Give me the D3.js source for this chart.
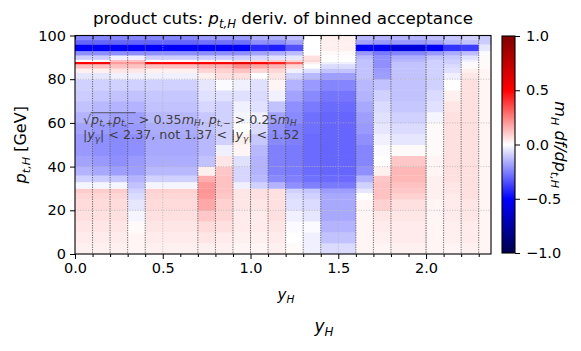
<!DOCTYPE html>
<html>
<head>
<meta charset="utf-8">
<script src="https://cdn.jsdelivr.net/npm/d3@7"></script>
<style>
  body { margin: 0; background: #fff; }
  text { font-family: "DejaVu Sans", sans-serif; }
</style>
</head>
<body>
<div id="chart"></div>
<script>
// bin edges in y_H and p_t,H
const yEdges = [0, 0.1, 0.2, 0.3, 0.4, 0.7, 0.8, 0.9, 1.0, 1.1, 1.2, 1.3, 1.4, 1.6, 1.7, 1.8, 2.0, 2.1, 2.2, 2.3, 2.37];
const ptEdges = [0, 5, 10, 15, 20, 25, 28, 30, 33, 36, 40, 45, 50, 55, 60, 65, 70, 75, 80, 83, 85, 87, 88, 89, 91, 93, 96, 98, 100];

// one row per y_H bin, values from low pt to high pt
const cells = [
  [0.03,0.04,0.05,0.06,0.07,0.08,0.1,-0.02,-0.09,-0.15,-0.18,-0.2,-0.2,-0.18,-0.15,-0.12,-0.1,-0.09,-0.05,0.03,0.12,0.5,0.01,-0.1,-0.22,-0.52,-0.3,-0.24],
  [0.03,0.04,0.05,0.06,0.07,0.08,0.1,-0.02,-0.1,-0.17,-0.2,-0.22,-0.22,-0.2,-0.17,-0.14,-0.11,-0.09,-0.05,0.03,0.12,0.5,0.01,-0.1,-0.22,-0.52,-0.3,-0.24],
  [0.03,0.04,0.05,0.06,0.07,0.08,0.1,-0.02,-0.11,-0.19,-0.22,-0.23,-0.23,-0.22,-0.19,-0.15,-0.12,-0.09,-0.03,0.05,0.12,0.2,0.12,-0.03,-0.22,-0.52,-0.3,-0.24],
  [0.02,0.02,0.01,-0.02,-0.05,-0.07,-0.09,-0.12,-0.15,-0.19,-0.2,-0.22,-0.22,-0.2,-0.19,-0.15,-0.12,-0.09,-0.03,0.05,0.12,0.2,0.12,-0.03,-0.22,-0.52,-0.3,-0.24],
  [0.03,0.04,0.05,0.06,0.07,0.08,0.09,-0.02,-0.09,-0.14,-0.16,-0.17,-0.17,-0.16,-0.14,-0.12,-0.11,-0.09,-0.03,0.03,0.12,0.5,0.01,-0.1,-0.22,-0.52,-0.3,-0.24],
  [0.03,0.05,0.07,0.11,0.17,0.2,0.21,0.2,0.16,0.03,-0.12,-0.14,-0.14,-0.12,-0.11,-0.08,-0.06,-0.05,0.03,0.08,0.15,0.52,0.03,-0.1,-0.22,-0.52,-0.28,-0.2],
  [0.03,0.04,0.06,0.08,0.09,0.11,0.12,0.12,0.12,0.11,0.05,-0.03,-0.09,-0.09,-0.09,-0.09,-0.06,-0.01,0.06,0.09,0.15,0.52,0.03,-0.1,-0.22,-0.52,-0.28,-0.2],
  [0.02,0.03,0.04,0.04,0.05,0.05,0.05,-0.03,-0.08,-0.08,-0.06,0.02,0.03,0.0,-0.02,-0.03,-0.06,-0.03,0.06,0.12,0.22,0.58,0.06,-0.1,-0.22,-0.52,-0.28,-0.2],
  [0.02,0.03,0.04,0.04,0.05,0.06,0.06,-0.09,-0.14,-0.15,-0.15,-0.14,-0.11,-0.07,-0.03,-0.06,-0.07,-0.06,0.0,0.08,0.17,0.5,0.08,-0.08,-0.18,-0.42,-0.22,-0.16],
  [0.03,0.04,0.05,0.06,0.06,0.06,0.06,-0.15,-0.23,-0.25,-0.25,-0.25,-0.23,-0.22,-0.18,-0.12,-0.03,0.02,0.05,0.08,0.15,0.45,0.1,-0.06,-0.16,-0.44,-0.22,-0.16],
  [0.01,0.0,-0.01,-0.03,-0.06,-0.07,-0.09,-0.22,-0.25,-0.26,-0.26,-0.26,-0.25,-0.25,-0.23,-0.22,-0.18,-0.15,-0.09,-0.03,0.08,0.3,0.08,-0.05,-0.13,-0.34,-0.18,-0.13],
  [-0.03,-0.03,-0.01,-0.05,-0.07,-0.09,-0.11,-0.25,-0.28,-0.29,-0.29,-0.29,-0.29,-0.28,-0.28,-0.26,-0.23,-0.2,-0.14,-0.06,0.0,0.03,0.08,0.06,0.0,0.0,0.0,0.0],
  [-0.07,-0.12,-0.15,-0.17,-0.17,-0.17,-0.19,-0.26,-0.29,-0.3,-0.3,-0.3,-0.3,-0.3,-0.3,-0.29,-0.27,-0.24,-0.19,-0.12,-0.07,-0.03,0.0,0.0,0.01,0.03,0.03,0.03],
  [0.02,0.02,0.02,0.02,0.02,0.0,-0.05,-0.09,-0.15,-0.22,-0.24,-0.24,-0.22,-0.2,-0.19,-0.17,-0.15,-0.14,-0.12,-0.12,-0.12,-0.12,-0.12,-0.14,-0.2,-0.52,-0.18,-0.14],
  [0.02,0.03,0.04,0.05,0.09,0.12,0.12,0.12,0.11,0.03,0.0,-0.01,-0.03,-0.05,-0.06,-0.07,-0.09,-0.12,-0.19,-0.2,-0.22,-0.22,-0.22,-0.22,-0.26,-0.55,-0.2,-0.15],
  [0.03,0.04,0.04,0.05,0.06,0.09,0.11,0.12,0.14,0.14,0.11,0.01,-0.05,-0.07,-0.09,-0.11,-0.12,-0.12,-0.12,-0.12,-0.12,-0.12,-0.14,-0.16,-0.24,-0.6,-0.2,-0.15],
  [0.02,0.02,0.02,0.02,0.02,0.03,0.03,0.03,0.03,0.02,0.02,0.01,0.01,0.01,-0.02,-0.06,-0.07,-0.09,-0.09,-0.09,-0.09,-0.09,-0.09,-0.12,-0.2,-0.52,-0.18,-0.13],
  [0.02,0.03,0.03,0.04,0.04,0.04,0.05,0.05,0.06,0.06,0.06,0.06,0.06,0.06,0.06,0.05,0.03,0.0,-0.03,-0.06,-0.07,-0.09,-0.09,-0.11,-0.16,-0.4,-0.14,-0.11],
  [0.03,0.04,0.04,0.05,0.05,0.06,0.06,0.06,0.06,0.06,0.06,0.06,0.06,0.06,0.06,0.06,0.06,0.06,0.05,0.03,0.01,-0.01,-0.03,-0.06,-0.13,-0.38,-0.12,-0.09],
  [0.02,0.02,0.02,0.02,0.02,0.02,0.02,0.02,0.02,0.02,0.02,0.02,0.02,0.02,0.02,0.02,0.02,0.02,0.02,0.02,0.01,0.01,0.01,0.01,-0.01,-0.05,-0.1,-0.1]
];

const xMajor = [0, 0.5, 1.0, 1.5, 2.0];
const xMinor = [0.1, 0.2, 0.3, 0.4, 0.6, 0.7, 0.8, 0.9, 1.1, 1.2, 1.3, 1.4, 1.6, 1.7, 1.8, 1.9, 2.1, 2.2, 2.3];
const yTicks = [0, 20, 40, 60, 80, 100];
const cbTicks = [-1, -0.5, 0, 0.5, 1];
const seismicStops = ["#00004c", "#0000ff", "#ffffff", "#ff0000", "#800000"];

const W = 581, H = 351;
const plot = { left: 75, right: 491, top: 35.5, bottom: 254 };
const cb = { left: 502, right: 515 };

const svg = d3.select("#chart").append("svg").attr("width", W).attr("height", H);

const x = d3.scaleLinear().domain([0, 2.37]).range([plot.left, plot.right]);
const y = d3.scaleLinear().domain([0, 100]).range([plot.bottom, plot.top]);
const color = d3.scaleLinear().domain(cbTicks).range(seismicStops).clamp(true);

// mathtext-ish helper: parts = [text, flags] where flags: i italic, s subscript
function mathText(sel, parts, size) {
  let shift = 0;
  const nodes = [];
  parts.forEach(([t, f]) => {
    const sub = f.includes("s");
    const target = sub ? size * 0.22 : 0;
    const ts = sel.append("tspan").text(t)
      .attr("dy", target - shift)
      .style("font-size", (sub ? size * 0.7 : size) + "px")
      .style("font-style", f.includes("i") ? "italic" : "normal");
    shift = target;
    nodes.push(ts.node());
  });
  return nodes;
}

// heatmap cells
const cellData = [];
cells.forEach((col, i) => col.forEach((v, j) => cellData.push({ i, j, v })));
svg.append("g")
  .selectAll("rect")
  .data(cellData)
  .enter()
  .append("rect")
  .attr("x", d => x(yEdges[d.i]))
  .attr("width", d => x(yEdges[d.i + 1]) - x(yEdges[d.i]) + 0.3)
  .attr("y", d => y(ptEdges[d.j + 1]))
  .attr("height", d => y(ptEdges[d.j]) - y(ptEdges[d.j + 1]) + 0.3)
  .attr("fill", d => color(d.v));

// grid
const grid = svg.append("g").attr("stroke", "#b0b0b0").attr("stroke-width", 0.8).attr("stroke-dasharray", "1,1.6");
grid.selectAll(".gx").data(xMajor.slice(1)).enter().append("line")
  .attr("x1", d => x(d)).attr("x2", d => x(d)).attr("y1", plot.top).attr("y2", plot.bottom);
grid.selectAll(".gy").data(yTicks.slice(1, -1)).enter().append("line")
  .attr("y1", d => y(d)).attr("y2", d => y(d)).attr("x1", plot.left).attr("x2", plot.right);

// bin edges
svg.append("g").attr("stroke", "#555").attr("stroke-width", 0.9).attr("stroke-dasharray", "1.2,1.2")
  .selectAll("line").data(yEdges.slice(1, -1)).enter().append("line")
  .attr("x1", d => x(d)).attr("x2", d => x(d)).attr("y1", plot.top).attr("y2", plot.bottom);

// frame
svg.append("rect").attr("x", plot.left).attr("y", plot.top)
  .attr("width", plot.right - plot.left).attr("height", plot.bottom - plot.top)
  .attr("fill", "none").attr("stroke", "#000").attr("stroke-width", 1.1);

// axes
const fmt = d3.format(".1f");
const styleAxis = g => {
  g.select(".domain").remove();
  g.selectAll("text").style("font-size", "14.5px").attr("fill", "#000");
  g.selectAll("line").attr("stroke", "#000").attr("stroke-width", 1);
};
svg.append("g").attr("transform", `translate(0,${plot.bottom})`)
  .call(d3.axisBottom(x).tickValues(xMajor).tickFormat(fmt).tickSize(5).tickPadding(4)).call(styleAxis);
svg.append("g").attr("transform", `translate(0,${plot.bottom})`)
  .call(d3.axisBottom(x).tickValues(xMinor).tickFormat("").tickSize(3)).call(styleAxis);
svg.append("g").attr("transform", `translate(0,${plot.top})`)
  .call(d3.axisTop(x).tickValues(xMinor.concat(xMajor)).tickFormat("").tickSize(-4)).call(styleAxis);
svg.append("g").attr("transform", `translate(${plot.left},0)`)
  .call(d3.axisLeft(y).tickValues(yTicks).tickFormat(d3.format("d")).tickSize(5).tickPadding(4)).call(styleAxis);

// annotation
const annSize = 12.7;
const ann1Y = 123.5, ann2Y = 139;
const ann1 = svg.append("text").attr("x", 83).attr("y", ann1Y).attr("fill", "#404040");
const n1 = mathText(ann1, [["√", ""], ["p", "i"], ["t,+", "is"], ["p", "i"], ["t,−", "is"], [" > 0.35", ""], ["m", "i"], ["H", "is"],
  [", ", ""], ["p", "i"], ["t,−", "is"], [" > 0.25", ""], ["m", "i"], ["H", "is"]], annSize);
const ann2 = svg.append("text").attr("x", 83).attr("y", ann2Y).attr("fill", "#404040");
mathText(ann2, [["|", ""], ["y", "i"], ["γ", "is"], ["| < 2.37, not 1.37 < |", ""], ["y", "i"], ["γ", "is"], ["| < 1.52", ""]], annSize);
const ovStart = n1[0].getEndPositionOfChar(0).x;
const ovEnd = n1[4].getEndPositionOfChar(n1[4].textContent.length - 1).x;
svg.append("line").attr("x1", ovStart - 0.5).attr("x2", ovEnd + 1)
  .attr("y1", ann1Y - annSize * 0.85).attr("y2", ann1Y - annSize * 0.85)
  .attr("stroke", "#404040").attr("stroke-width", 0.8);

// title and labels
const title = svg.append("text").attr("x", (plot.left + plot.right) / 2).attr("y", 24).attr("text-anchor", "middle");
mathText(title, [["product cuts: ", ""], ["p", "i"], ["t,H", "is"], [" deriv. of binned acceptance", ""]], 16.7);

const xl = svg.append("text").attr("x", 286).attr("y", 300).attr("text-anchor", "middle");
mathText(xl, [["y", "i"], ["H", "is"]], 15);
const xl2 = svg.append("text").attr("x", 324).attr("y", 332).attr("text-anchor", "middle");
mathText(xl2, [["y", "i"], ["H", "is"]], 17);

const yl = svg.append("text").attr("transform", `translate(26,${(plot.top + plot.bottom) / 2}) rotate(-90)`).attr("text-anchor", "middle");
mathText(yl, [["p", "i"], ["t,H", "is"], [" [GeV]", ""]], 16);

// colorbar
const cy = d3.scaleLinear().domain([-1, 1]).range([plot.bottom - 1, plot.top + 0.5]);
const grad = svg.append("defs").append("linearGradient").attr("id", "seismic")
  .attr("x1", "0%").attr("y1", "100%").attr("x2", "0%").attr("y2", "0%");
cbTicks.forEach((t, k) => grad.append("stop").attr("offset", `${(t + 1) * 50}%`).attr("stop-color", seismicStops[k]));
svg.append("rect").attr("x", cb.left).attr("y", cy(1)).attr("width", cb.right - cb.left)
  .attr("height", cy(-1) - cy(1)).attr("fill", "url(#seismic)").attr("stroke", "#000").attr("stroke-width", 1.1);
svg.append("g").attr("transform", `translate(${cb.right},0)`)
  .call(d3.axisRight(cy).tickValues(cbTicks).tickFormat(fmt).tickSize(5).tickPadding(6)).call(styleAxis);

const cl = svg.append("text").attr("transform", `translate(555,${(plot.top + plot.bottom) / 2}) rotate(90)`).attr("text-anchor", "middle");
mathText(cl, [["m", "i"], ["H", "is"], [" df/dp", "i"], ["t,H", "is"]], 16);
</script>
</body>
</html>
